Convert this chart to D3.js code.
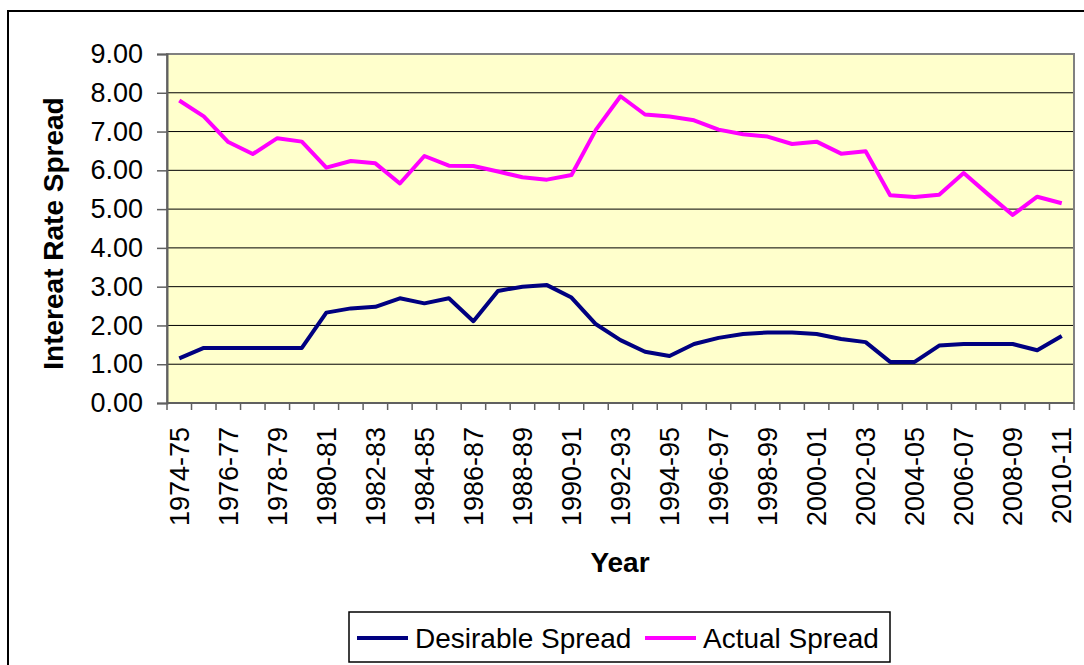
<!DOCTYPE html>
<html>
<head>
<meta charset="utf-8">
<script src="https://cdn.jsdelivr.net/npm/d3@7"></script>
<style>
  body { margin: 0; background: #fff; }
  svg { display: block; font-family: "Liberation Sans", Arial, sans-serif; }
</style>
</head>
<body>
<svg id="chart" width="1084" height="665"></svg>
<script>
var YEARS = ['1974-75','1975-76','1976-77','1977-78','1978-79','1979-80','1980-81','1981-82','1982-83',
  '1983-84','1984-85','1985-86','1986-87','1987-88','1988-89','1989-90','1990-91','1991-92','1992-93',
  '1993-94','1994-95','1995-96','1996-97','1997-98','1998-99','1999-00','2000-01','2001-02','2002-03',
  '2003-04','2004-05','2005-06','2006-07','2007-08','2008-09','2009-10','2010-11'];
var DESIRABLE = [1.15,1.42,1.42,1.42,1.42,1.42,2.33,2.44,2.48,2.70,2.57,2.70,2.11,2.89,3.00,3.04,2.72,2.03,1.62,
  1.32,1.21,1.52,1.68,1.78,1.82,1.82,1.78,1.65,1.57,1.06,1.06,1.48,1.52,1.52,1.52,1.36,1.73];
var ACTUAL = [7.80,7.39,6.73,6.42,6.83,6.74,6.07,6.24,6.18,5.66,6.37,6.12,6.11,5.97,5.82,5.76,5.88,7.05,7.91,
  7.44,7.39,7.29,7.05,6.93,6.87,6.68,6.74,6.43,6.49,5.36,5.31,5.37,5.93,5.38,4.85,5.32,5.15];
var Y_TICKS = [0,1,2,3,4,5,6,7,8,9];

var SERIES = [
  {name: 'Desirable Spread', values: DESIRABLE, color: '#000080'},
  {name: 'Actual Spread', values: ACTUAL, color: '#FF00FF'}
];

var margin = {top: 54, right: 10, bottom: 262, left: 167};
var W = 1084, H = 665;
var svg = d3.select('#chart');

// outer chart border
svg.append('rect')
  .attr('x', 8).attr('y', 11)
  .attr('width', 1090).attr('height', 670)
  .attr('fill', '#fff').attr('stroke', '#000').attr('stroke-width', 2);

var x = d3.scaleBand()
  .domain(YEARS)
  .range([margin.left, W - margin.right]);
var y = d3.scaleLinear()
  .domain([0, 9])
  .range([H - margin.bottom, margin.top]);

// plot area
svg.append('rect')
  .attr('x', x.range()[0]).attr('y', y(9))
  .attr('width', x.range()[1] - x.range()[0]).attr('height', y(0) - y(9))
  .attr('fill', '#FFFFCC');

// gridlines
svg.append('g')
  .selectAll('line')
  .data(Y_TICKS.filter(d => d > 0 && d < 9))
  .join('line')
  .attr('x1', x.range()[0]).attr('x2', x.range()[1])
  .attr('y1', d => y(d)).attr('y2', d => y(d))
  .attr('stroke', '#000').attr('stroke-width', 1);

// plot border
svg.append('rect')
  .attr('x', x.range()[0]).attr('y', y(9))
  .attr('width', x.range()[1] - x.range()[0]).attr('height', y(0) - y(9))
  .attr('fill', 'none').attr('stroke', '#808080').attr('stroke-width', 2);

// y axis
var yAxis = svg.append('g')
  .attr('transform', `translate(${margin.left},0)`)
  .call(d3.axisLeft(y).tickValues(Y_TICKS).tickFormat(d3.format('.2f')).tickSize(10).tickPadding(14))
  .call(g => g.select('.domain').attr('stroke', '#606060').attr('stroke-width', 2));
yAxis.selectAll('.tick line').attr('stroke', '#606060').attr('stroke-width', 1.5);
yAxis.selectAll('.tick text').attr('font-size', 27).attr('fill', '#000')
  .attr('font-family', '"Liberation Sans", Arial, sans-serif');

// x axis ticks at band boundaries
var bounds = YEARS.map(d => x(d)).concat([x.range()[1]]);
var xg = svg.append('g');
xg.append('line')
  .attr('x1', x.range()[0]).attr('x2', x.range()[1])
  .attr('y1', y(0)).attr('y2', y(0))
  .attr('stroke', '#606060').attr('stroke-width', 2);
xg.selectAll('line.tk')
  .data(bounds)
  .join('line')
  .attr('class', 'tk')
  .attr('x1', d => d).attr('x2', d => d)
  .attr('y1', y(0)).attr('y2', y(0) + 7)
  .attr('stroke', '#606060').attr('stroke-width', 1.5);
xg.selectAll('text')
  .data(YEARS.filter((d, i) => i % 2 === 0))
  .join('text')
  .attr('transform', d => `translate(${x(d) + x.bandwidth() / 2 + 9.5},${y(0) + 24}) rotate(-90)`)
  .attr('text-anchor', 'end')
  .attr('font-size', 27)
  .attr('fill', '#000')
  .text(d => d);

// lines
var line = d3.line()
  .x((d, i) => x(YEARS[i]) + x.bandwidth() / 2)
  .y(d => y(d));
svg.append('g')
  .selectAll('path')
  .data(SERIES)
  .join('path')
  .attr('fill', 'none')
  .attr('stroke', d => d.color)
  .attr('stroke-width', 4)
  .attr('stroke-linejoin', 'round')
  .attr('d', d => line(d.values));

// axis titles
svg.append('text')
  .attr('x', 620).attr('y', 572)
  .attr('text-anchor', 'middle')
  .attr('font-size', 28).attr('font-weight', 'bold')
  .text('Year');
svg.append('text')
  .attr('transform', `translate(63,${(y(0) + y(9)) / 2 + 5}) rotate(-90)`)
  .attr('text-anchor', 'middle')
  .attr('font-size', 28).attr('font-weight', 'bold')
  .text('Intereat Rate Spread');

// legend
var legend = svg.append('g');
legend.append('rect')
  .attr('x', 349).attr('y', 612).attr('width', 541).attr('height', 50)
  .attr('fill', '#fff').attr('stroke', '#000').attr('stroke-width', 1.5);
var legendX = [357, 645];
var items = legend.selectAll('g.item')
  .data(SERIES)
  .join('g')
  .attr('class', 'item')
  .attr('transform', (d, i) => `translate(${legendX[i]},638)`);
items.append('line')
  .attr('x1', 0).attr('x2', 51).attr('y1', 0).attr('y2', 0)
  .attr('stroke', d => d.color).attr('stroke-width', 4);
items.append('text')
  .attr('x', 58).attr('y', 10)
  .attr('font-size', 28)
  .attr('fill', '#000')
  .text(d => d.name);
</script>
</body>
</html>
